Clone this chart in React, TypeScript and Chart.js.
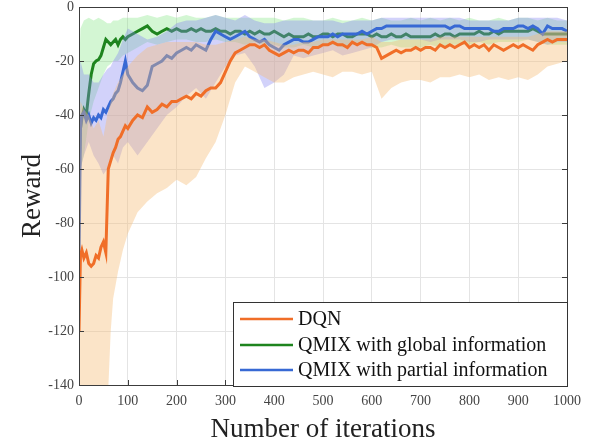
import React, { useEffect, useRef } from 'react';
import { Chart, registerables } from 'chart.js';

Chart.register(...registerables);

const FONT = '"Liberation Serif", "Times New Roman", serif';

// iteration positions of the mean curves
const ITER = [0, 3, 6, 10, 15, 20, 25, 30, 35, 40, 45, 50, 55, 60, 65, 70, 75, 80, 85, 90, 95, 100,
  110, 120, 130, 140, 150, 160, 170, 180, 190, 200,
  210, 220, 230, 240, 250, 260, 270, 280, 290, 300,
  310, 320, 330, 340, 350, 360, 370, 380, 390, 400,
  410, 420, 430, 440, 450, 460, 470, 480, 490, 500,
  510, 520, 530, 540, 550, 560, 570, 580, 590, 600,
  610, 620, 630, 640, 650, 660, 670, 680, 690, 700,
  710, 720, 730, 740, 750, 760, 770, 780, 790, 800,
  810, 820, 830, 840, 850, 860, 870, 880, 890, 900,
  910, 920, 930, 940, 950, 960, 970, 980, 990, 1000];

const DQN = [-120, -92, -90, -93, -91, -95, -96, -95, -92, -93, -89, -87, -91, -60, -57, -54, -52, -49, -48, -46, -44, -45,
  -42, -40, -41, -37, -39, -38, -36, -37, -35, -35,
  -34, -33, -34, -32, -33, -31, -30, -30, -28, -24,
  -20, -17, -16, -15, -14, -14, -15, -14, -16, -17,
  -18, -17, -16, -17, -16, -16, -17, -15, -15, -14,
  -14, -13, -14, -14, -15, -13, -14, -13, -14, -14,
  -15, -19, -18, -17, -16, -17, -16, -16, -15, -16,
  -15, -15, -16, -14, -15, -14, -15, -14, -13, -15,
  -14, -15, -14, -16, -14, -15, -16, -15, -14, -15,
  -14, -15, -16, -14, -13, -12, -13, -12, -12, -12];

const QMIX_GLOBAL = [-60, -45, -41, -38, -40, -32, -25, -21, -20, -19.5, -18, -15, -12, -13, -14, -13, -12, -14, -12, -11, -12, -11,
  -10, -9, -8, -7, -9, -10, -9, -8, -9, -8,
  -9, -9, -8, -9, -8, -9, -9, -8, -9, -9,
  -10, -9, -9, -10, -9, -10, -9, -10, -10, -9,
  -10, -11, -10, -11, -11, -11, -10, -11, -11, -10,
  -10, -11, -10, -10, -11, -11, -10, -10, -10, -11,
  -10, -11, -11, -10, -11, -11, -10, -11, -11, -11,
  -11, -11, -10, -11, -10, -10, -11, -10, -10, -10,
  -10, -9, -10, -10, -9, -10, -9, -9, -9, -9,
  -9, -9, -8, -9, -10, -10, -10, -10, -10, -10];

const QMIX_PARTIAL = [-95, -45, -40, -39, -42, -40, -43, -41, -42, -40, -41, -38, -39, -37, -35, -34, -32, -31, -28, -24, -20, -25,
  -28, -30, -31, -29, -22, -21, -20, -18, -19, -17,
  -16, -15, -16, -14, -15, -16, -12, -9, -10, -11,
  -12, -11, -10, -9, -11, -12, -13, -12, -14, -15,
  -16, -14, -13, -12, -12, -13, -13, -12, -11, -11,
  -11, -10, -11, -10, -10, -10, -10, -9, -10, -9,
  -8, -8, -7, -7, -7, -7, -7, -7, -7, -7,
  -7, -7, -7, -7, -7, -8, -7, -7, -8, -8,
  -8, -8, -8, -8, -9, -9, -8, -8, -8, -7,
  -7, -8, -7, -8, -10, -7, -8, -8, -8, -9];

// iteration positions of the shaded (min/max) bands
const BAND_X = [0, 3, 10, 20, 30, 40, 50, 58, 65, 70, 80, 90, 100,
  120, 140, 160, 180, 200, 220, 240, 260, 280, 300,
  320, 340, 360, 380, 400, 420, 440, 460, 480, 500,
  520, 540, 560, 580, 600, 620, 640, 660, 680, 700,
  720, 740, 760, 780, 800, 820, 840, 860, 880, 900,
  920, 940, 960, 980, 1000];

const DQN_HI = [-60, -35, -38, -40, -45, -42, -48, -40, -35, -32, -28, -25, -22,
  -18, -15, -14, -13, -13, -13, -13, -14, -14, -13,
  -12, -11, -12, -12, -13, -14, -14, -13, -13, -12,
  -12, -12, -12, -12, -11, -13, -13, -12, -12, -12,
  -12, -11, -11, -11, -11, -11, -11, -11, -11, -11,
  -11, -10, -9, -9, -9];
const DQN_LO = [-150, -150, -150, -150, -150, -150, -150, -150, -120, -108, -98, -90, -84,
  -76, -72, -69, -67, -64, -66, -63, -56, -50, -40,
  -28, -22, -24, -26, -28, -28, -26, -25, -24, -25,
  -26, -24, -24, -25, -24, -34, -30, -28, -27, -27,
  -28, -26, -26, -25, -26, -25, -27, -26, -27, -26,
  -27, -25, -22, -21, -20];

const QMIX_GLOBAL_HI = [-25, -8, -5, -4, -5, -4, -5, -6, -6, -5, -5, -4, -4,
  -4, -3, -4, -3, -4, -3, -4, -4, -3, -4,
  -4, -4, -4, -4, -4, -5, -4, -4, -5, -5,
  -4, -5, -5, -4, -5, -4, -5, -5, -4, -5,
  -4, -5, -4, -5, -4, -5, -5, -4, -5, -4,
  -4, -5, -4, -5, -5];
const QMIX_GLOBAL_LO = [-90, -60, -55, -42, -35, -30, -25, -22, -21, -20, -20, -18, -17,
  -15, -13, -14, -13, -12, -12, -13, -13, -12, -13,
  -13, -14, -13, -14, -14, -15, -15, -14, -15, -14,
  -14, -15, -14, -14, -15, -15, -14, -15, -15, -15,
  -14, -15, -14, -14, -14, -13, -14, -13, -13, -13,
  -12, -13, -14, -14, -14];

const QMIX_PARTIAL_HI = [-30, -20, -25, -25, -28, -28, -25, -23, -22, -20, -17, -12, -8,
  -10, -12, -11, -9, -6, -5, -5, -4, -3, -4,
  -5, -3, -5, -6, -6, -5, -5, -5, -5, -5,
  -5, -6, -5, -5, -5, -4, -4, -4, -4, -4,
  -4, -4, -4, -4, -5, -5, -5, -5, -5, -4,
  -4, -4, -4, -4, -5];
const QMIX_PARTIAL_LO = [-110, -60, -55, -50, -55, -58, -62, -60, -58, -55, -58, -52, -50,
  -55, -50, -45, -40, -37, -33, -30, -34, -28, -22,
  -18, -17, -22, -30, -28, -25, -18, -19, -18, -17,
  -16, -18, -17, -16, -15, -13, -12, -12, -12, -12,
  -13, -12, -12, -12, -13, -13, -12, -12, -12, -12,
  -12, -13, -14, -13, -13];

const X_TICKS = [0, 100, 200, 300, 400, 500, 600, 700, 800, 900, 1000];
const Y_TICKS = [0, -20, -40, -60, -80, -100, -120, -140];
const LEGEND_LABELS = ['DQN', 'QMIX with global information', 'QMIX with partial information'];

const C_ORANGE = 'rgb(240,110,40)';
const C_GREEN = 'rgb(30,132,30)';
const C_BLUE = 'rgb(55,105,212)';
const B_ORANGE = 'rgba(244,187,117,0.4)';
const B_GREEN = 'rgba(110,225,110,0.3)';
const B_BLUE = 'rgba(130,130,242,0.36)';

const frame = {
  id: 'frameAndLegend',
  afterDraw(chart: any) {
    const { ctx, chartArea: a } = chart;
    const xs = chart.scales.x;
    const ys = chart.scales.y;
    ctx.save();
    ctx.strokeStyle = '#3c3c3c';
    ctx.lineWidth = 1;
    ctx.strokeRect(Math.round(a.left) + 0.5, Math.round(a.top) + 0.5, Math.round(a.right - a.left), Math.round(a.bottom - a.top));
    ctx.beginPath();
    X_TICKS.forEach((t) => {
      const p = Math.round(xs.getPixelForValue(t)) + 0.5;
      ctx.moveTo(p, a.bottom); ctx.lineTo(p, a.bottom - 5);
      ctx.moveTo(p, a.top); ctx.lineTo(p, a.top + 5);
    });
    Y_TICKS.forEach((t) => {
      const p = Math.round(ys.getPixelForValue(t)) + 0.5;
      ctx.moveTo(a.left, p); ctx.lineTo(a.left + 5, p);
      ctx.moveTo(a.right, p); ctx.lineTo(a.right - 5, p);
    });
    ctx.stroke();

    // legend box
    const bx = 233, by = 302, bw = 334, bh = 84;
    ctx.fillStyle = '#ffffff';
    ctx.fillRect(bx, by, bw, bh);
    ctx.strokeStyle = '#333333';
    ctx.strokeRect(bx + 0.5, by + 0.5, bw, bh);
    const colors = [C_ORANGE, C_GREEN, C_BLUE];
    const rows = [17, 43, 68];
    ctx.font = `20px ${FONT}`;
    ctx.textBaseline = 'middle';
    ctx.textAlign = 'left';
    LEGEND_LABELS.forEach((lab, i) => {
      const y = by + rows[i];
      ctx.strokeStyle = colors[i];
      ctx.lineWidth = 2.5;
      ctx.beginPath();
      ctx.moveTo(bx + 7, y);
      ctx.lineTo(bx + 60, y);
      ctx.stroke();
      ctx.fillStyle = '#111111';
      ctx.fillText(lab, bx + 65, y + 1);
    });
    ctx.restore();
  },
};

export default function App() {
  const ref = useRef<HTMLCanvasElement>(null);
  useEffect(() => {
    document.body.style.margin = '0';
    const pts = (xs: number[], ys: number[]) => xs.map((x, i) => ({ x, y: ys[i] }));
    const line = (label: string, ys: number[], color: string, order: number) => ({
      label, data: pts(ITER, ys), borderColor: color, borderWidth: 3, pointRadius: 0,
      fill: false, order, tension: 0,
    });
    const bandHi = (hi: number[], color: string, target: number, order: number) => ({
      label: 'band', data: pts(BAND_X, hi), borderWidth: 0, borderColor: 'rgba(0,0,0,0)',
      pointRadius: 0, backgroundColor: color, fill: { target }, order, tension: 0,
    });
    const bandLo = (lo: number[], order: number) => ({
      label: 'band', data: pts(BAND_X, lo), borderWidth: 0, borderColor: 'rgba(0,0,0,0)',
      pointRadius: 0, fill: false, order, tension: 0,
    });
    const datasets: any[] = [
      bandHi(QMIX_GLOBAL_HI, B_GREEN, 1, 60),
      bandLo(QMIX_GLOBAL_LO, 60),
      line(LEGEND_LABELS[1], QMIX_GLOBAL, C_GREEN, 50),
      bandHi(QMIX_PARTIAL_HI, B_BLUE, 4, 40),
      bandLo(QMIX_PARTIAL_LO, 40),
      line(LEGEND_LABELS[2], QMIX_PARTIAL, C_BLUE, 30),
      bandHi(DQN_HI, B_ORANGE, 7, 20),
      bandLo(DQN_LO, 20),
      line(LEGEND_LABELS[0], DQN, C_ORANGE, 10),
    ];
    const chart = new Chart(ref.current as HTMLCanvasElement, {
      type: 'line',
      data: { datasets },
      options: {
        animation: false,
        responsive: false,
        maintainAspectRatio: false,
        layout: { padding: { top: 0, right: 23, left: 0, bottom: 0 } },
        plugins: { legend: { display: false }, tooltip: { enabled: false } },
        scales: {
          x: {
            type: 'linear', min: 0, max: 1000,
            afterBuildTicks: (s: any) => { s.ticks = X_TICKS.map((v) => ({ value: v })); },
            afterFit: (s: any) => { s.height = 60; s.paddingLeft = 0; s.paddingRight = 0; },
            grid: { color: '#e4e4e4', drawTicks: false },
            border: { display: false },
            ticks: { padding: 9, color: '#444', font: { family: FONT, size: 14, lineHeight: 1 }, maxRotation: 0, callback: (v: any) => String(v) },
            title: { display: true, text: 'Number of iterations', color: '#222', font: { family: FONT, size: 27, lineHeight: 1 }, padding: { top: 0, bottom: 2 } },
          },
          y: {
            type: 'linear', min: -140, max: 0,
            afterBuildTicks: (s: any) => { s.ticks = Y_TICKS.map((v) => ({ value: v })); },
            afterFit: (s: any) => { s.width = 79; s.paddingTop = 7; s.paddingBottom = 0; },
            grid: { color: '#e4e4e4', drawTicks: false },
            border: { display: false },
            ticks: { padding: 5, color: '#444', font: { family: FONT, size: 14, lineHeight: 1 }, callback: (v: any) => String(v) },
            title: { display: true, text: 'Reward', color: '#222', font: { family: FONT, size: 27, lineHeight: 1 }, padding: { top: 19, bottom: 0 } },
          },
        },
      },
      plugins: [frame],
    });
    return () => chart.destroy();
  }, []);
  return (
    <div style={{ position: 'absolute', left: 0, top: 0, width: 590, height: 445 }}>
      <canvas ref={ref} width={590} height={445} style={{ width: 590, height: 445, display: 'block' }} />
    </div>
  );
}
